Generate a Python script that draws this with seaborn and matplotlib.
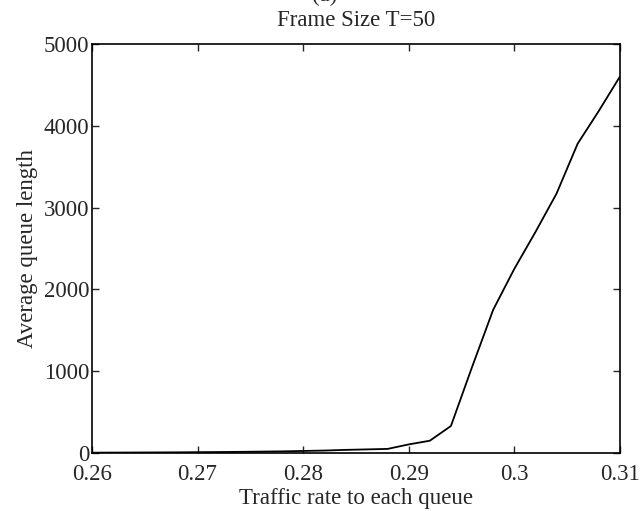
import matplotlib
matplotlib.use("Agg")
import matplotlib.pyplot as plt
import seaborn as sns
import pandas as pd

traffic_rate = [0.260, 0.262, 0.264, 0.266, 0.268, 0.270, 0.272, 0.274, 0.276, 0.278,
                0.280, 0.282, 0.284, 0.286, 0.288, 0.290, 0.292, 0.294, 0.296, 0.298,
                0.300, 0.302, 0.304, 0.306, 0.308, 0.310]
avg_queue = [4, 5, 6, 7, 8, 10, 12, 14, 17, 20,
             25, 30, 38, 44, 50, 105, 150, 330, 1050, 1750,
             2250, 2700, 3170, 3780, 4180, 4600]
xticks = [0.26, 0.27, 0.28, 0.29, 0.3, 0.31]
xtick_labels = ["0.26", "0.27", "0.28", "0.29", "0.3", "0.31"]
yticks = [0, 1000, 2000, 3000, 4000, 5000]

sns.set_style("ticks")
plt.rcParams['font.family'] = ['Liberation Serif', 'DejaVu Serif']

fig = plt.figure(figsize=(6.43, 5.11), dpi=100)
ax = fig.add_axes([0.143, 0.1135, 0.821, 0.8005])

df = pd.DataFrame({"x": traffic_rate, "y": avg_queue})
sns.lineplot(data=df, x="x", y="y", ax=ax, color="black", linewidth=1.3)

ax.set_xlim(0.26, 0.31)
ax.set_ylim(0, 5000)
ax.set_xticks(xticks)
ax.set_xticklabels(xtick_labels)
ax.set_yticks(yticks)
ax.tick_params(direction="in", top=True, right=True, labelsize=16.5, length=5, width=1)
ax.tick_params(axis="x", pad=8)
ax.tick_params(axis="y", pad=2)
for s in ax.spines.values():
    s.set_linewidth(1.2)
    s.set_color("black")
    s.set_visible(True)

ax.set_xlabel("Traffic rate to each queue", fontsize=16.5, labelpad=2)
ax.set_ylabel("Average queue length", fontsize=16.5, labelpad=4)
ax.set_title("Frame Size T=50", fontsize=16.5, pad=13)
fig.text(0.505, 1.008, "(a)", fontsize=16.5, ha="center", va="center")

fig.savefig("out.png", dpi=100, facecolor="white")
